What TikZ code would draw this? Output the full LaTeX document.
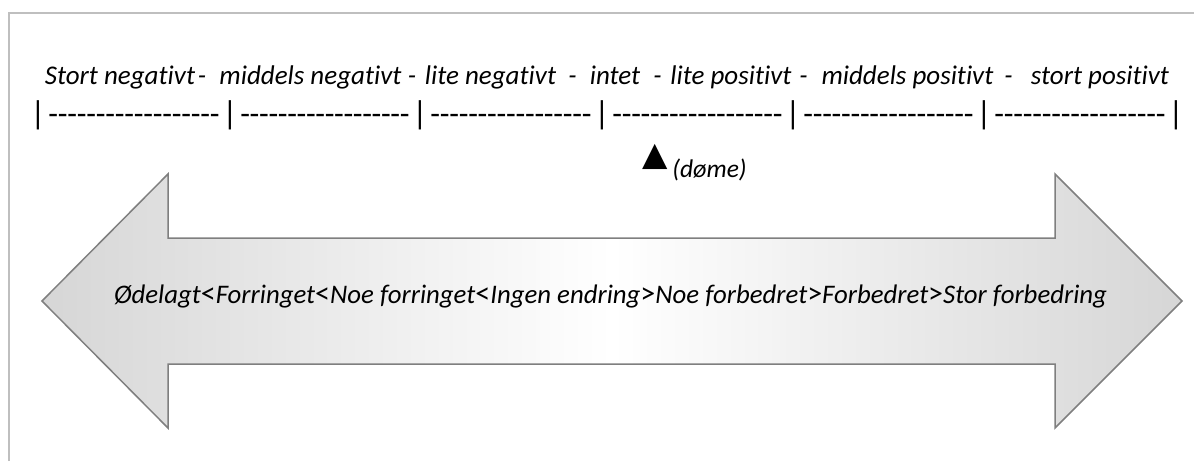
\documentclass[tikz,border=0pt]{standalone}
\usepackage{fontspec}
\usetikzlibrary{calc}
\setmainfont{Carlito}[Ligatures={TeX,NoCommon}]
\newfontfamily\symfont{DejaVu Sans}
\definecolor{framegray}{HTML}{BFBFBF}
\definecolor{arrowline}{HTML}{7F7F7F}
\definecolor{arrowend}{HTML}{D6D6D6}
\newcommand\cmpsign[1]{{\fontsize{30}{30}\selectfont\upshape #1}}
\begin{document}
\begin{tikzpicture}[x=1pt,y=-1pt,
  toplabel/.style={anchor=base, inner sep=0pt, font=\fontsize{27}{31}\selectfont\itshape},
  barmark/.style={anchor=base, inner sep=0pt, font=\fontsize{33}{36}\selectfont},
  dashrun/.style={anchor=base, inner sep=0pt, font=\fontsize{31.7}{34}\selectfont},
  bigarrow/.style={draw=arrowline, line width=1.5pt, left color=arrowend, right color=arrowend, middle color=white},
  midlabel/.style={anchor=base, inner sep=0pt, font=\fontsize{26.8}{30}\selectfont\itshape},
  notelabel/.style={anchor=base, inner sep=0pt, font=\fontsize{25.5}{28}\selectfont\itshape},
  marker/.style={anchor=base, inner sep=0pt, font=\symfont\fontsize{33}{36}\selectfont}
]
\useasboundingbox (0,0) rectangle (1194,461);
% frame
\draw[framegray, line width=1.5pt] (9,461) -- (9,13) -- (1194,13);
% top scale labels
\node[toplabel] (t1) at (120,84) {Stort negativt};
\node[toplabel] (h1) at (202,84) {-};
\node[toplabel] (t2) at (310.5,84) {middels negativt};
\node[toplabel] (h2) at (412,84) {-};
\node[toplabel] (t3) at (490.5,84) {lite negativt};
\node[toplabel] (h3) at (572.5,84) {-};
\node[toplabel] (t4) at (615,84) {intet};
\node[toplabel] (h4) at (657.5,84) {-};
\node[toplabel] (t5) at (731,84) {lite positivt};
\node[toplabel] (h5) at (803.5,84) {-};
\node[toplabel] (t6) at (907.5,84) {middels positivt};
\node[toplabel] (h6) at (1008.5,84) {-};
\node[toplabel] (t7) at (1100,84) {stort positivt};
% scale line
\foreach \i/\x in {0/38,1/230,2/420,3/602,4/793,5/984,6/1176}{
  \node[barmark] (b\i) at (\x,124) {|};
}
\foreach \i/\j/\w in {0/1/171,1/2/169,2/3/161,3/4/170,4/5/170,5/6/171}{
  \node[dashrun] (d\j) at ($(b\i.base)!0.5!(b\j.base)$) {\hbox to \w pt{\xleaders\hbox to 9.35pt{\hss-\hss}\hfill}};
}
% marker
\node[marker] (m) at (655,165) {▲};
\node[notelabel] (note) at (709.5,177) {(døme)};
% double arrow
\draw[bigarrow] (42,301) -- (168,174) -- (168,238) -- (1055,238) -- (1055,174)
  -- (1182,301) -- (1055,428) -- (1055,364) -- (168,364) -- (168,428) -- cycle;
\node[midlabel] (mid) at (610.5,303) {Ødelagt\cmpsign{<}Forringet\cmpsign{<}Noe forringet\cmpsign{<}Ingen endring\cmpsign{>}Noe forbedret\cmpsign{>}Forbedret\cmpsign{>}Stor forbedring};
\end{tikzpicture}
\end{document}
